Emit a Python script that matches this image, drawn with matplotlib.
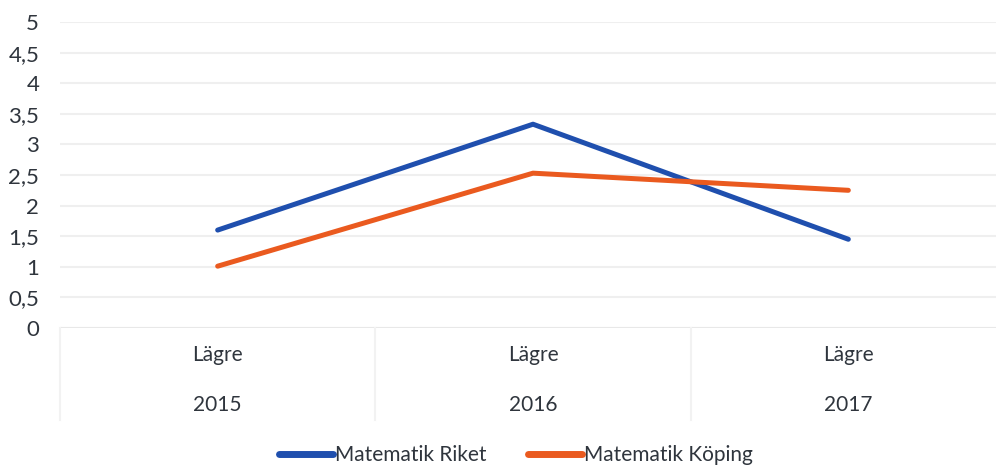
import matplotlib
matplotlib.use("Agg")
import matplotlib.pyplot as plt
from matplotlib.lines import Line2D
from matplotlib.ticker import FuncFormatter

years = ["2015", "2016", "2017"]
level = ["Lägre", "Lägre", "Lägre"]
riket = [1.60, 3.33, 1.45]
koping = [1.01, 2.53, 2.25]

BLUE, ORANGE = "#1F4FAE", "#EA5A1F"
TXT = "#2f353d"
plt.rcParams["font.family"] = ["Lato", "DejaVu Sans"]

fig = plt.figure(figsize=(9.96, 4.68), dpi=100)
W, H = 996, 468
# data x -0.5 -> px 60, 2.5 -> px 1006 ; y 0 -> px 328, 5 -> px 22
ax = fig.add_axes([60 / W, (H - 328) / H, 946 / W, 306 / H])
x = range(len(years))
ax.plot(x, riket, color=BLUE, lw=3.6, solid_capstyle="round", zorder=3)
ax.plot(x, koping, color=ORANGE, lw=3.6, solid_capstyle="round", zorder=3)

ax.set_xlim(-0.5, 2.5)
ax.set_ylim(0, 5)
ax.set_yticks([i * 0.5 for i in range(11)])
ax.yaxis.set_major_formatter(FuncFormatter(lambda v, p: f"{v:g}".replace(".", ",")))
ax.tick_params(axis="y", length=0, labelsize=16, labelcolor=TXT, pad=15)
ax.set_xticks([])
ax.grid(axis="y", color="#efefef", lw=1.5)
for s in ax.spines.values():
    s.set_visible(False)
ax.axhline(0, color="#e8e8e8", lw=1.5)

# category separators below the axis
for b in [-0.5, 0.5, 1.5]:
    ax.plot([b, b], [0, -1.5], color="#f2f2f2", lw=1.5, clip_on=False)
for i in x:
    ax.text(i, -(355 - 328) / 61.2, level[i], ha="center", va="center",
            fontsize=15, color=TXT)
    ax.text(i, -(405 - 328) / 61.2, years[i], ha="center", va="center",
            fontsize=15, color=TXT)

handles = [Line2D([], [], color=BLUE, lw=5, solid_capstyle="round"),
           Line2D([], [], color=ORANGE, lw=5, solid_capstyle="round")]
fig.legend(handles, ["Matematik Riket", "Matematik Köping"], loc="center",
           bbox_to_anchor=(516 / W, (H - 455) / H), ncol=2, frameon=False,
           fontsize=15, labelcolor=TXT, handlelength=2.6, handletextpad=0.1,
           columnspacing=2.0)

fig.savefig("out.png", dpi=100)
